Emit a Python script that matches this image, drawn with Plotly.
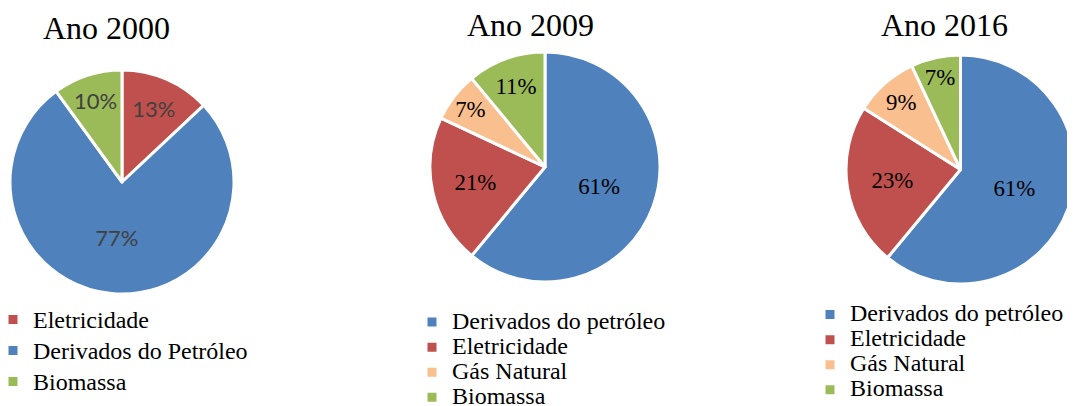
import plotly.graph_objects as go

W, H = 1075, 406
OFF = 8            # page body margin of the html output
FW, FH = W - OFF, H - OFF

# Data
labels_2000 = ["Eletricidade", "Derivados do Petróleo", "Biomassa"]
values_2000 = [13, 77, 10]
colors_2000 = ["#C0504D", "#4F81BD", "#9BBB59"]

labels_2009 = ["Derivados do petróleo", "Eletricidade", "Gás Natural", "Biomassa"]
values_2009 = [61, 21, 7, 11]
colors_2009 = ["#4F81BD", "#C0504D", "#F9BF8F", "#9BBB59"]

labels_2016 = ["Derivados do petróleo", "Eletricidade", "Gás Natural", "Biomassa"]
values_2016 = [61, 23, 9, 7]
colors_2016 = ["#4F81BD", "#C0504D", "#F9BF8F", "#9BBB59"]

titles = ["Ano 2000", "Ano 2009", "Ano 2016"]

SERIF = "Liberation Serif, Times New Roman, serif"
SANS = "Lato, Carlito, Calibri, sans-serif"


def fx(sx):
    return (sx - OFF) / FW


def fy(sy):
    return 1 - (sy - OFF) / FH


def px_dom(x0, x1, y0, y1):
    return dict(x=[max(0, fx(x0)), min(1, fx(x1))], y=[max(0, fy(y1)), min(1, fy(y0))])


def legend_labels(labels, k, size):
    # unique (zero-width suffix) so each pie keeps its own legend entries
    return ['<span style="font-size:%dpx">%s</span>%s' % (size, l, "\u200b" * k) for l in labels]


fig = go.Figure()

fig.add_trace(go.Pie(
    labels=legend_labels(labels_2000, 1, 24), values=values_2000, sort=False,
    direction="clockwise",
    marker=dict(colors=colors_2000, line=dict(color="white", width=3)),
    texttemplate="%{percent:.0%}", textposition="inside",
    insidetextorientation="horizontal",
    insidetextfont=dict(family=SANS, size=22, color="#404040"),
    domain=px_dom(10, 234, 70, 294), legend="legend", hoverinfo="percent",
))

fig.add_trace(go.Pie(
    labels=legend_labels(labels_2009, 2, 24), values=values_2009, sort=False,
    direction="clockwise",
    marker=dict(colors=colors_2009, line=dict(color="white", width=3)),
    texttemplate="%{percent:.0%}", textposition="inside",
    insidetextorientation="horizontal",
    insidetextfont=dict(family=SERIF, size=23, color="black"),
    domain=px_dom(430, 660, 52, 282), legend="legend2", hoverinfo="percent",
))

fig.add_trace(go.Pie(
    labels=legend_labels(labels_2016, 3, 24), values=values_2016, sort=False,
    direction="clockwise",
    marker=dict(colors=colors_2016, line=dict(color="white", width=3)),
    texttemplate="%{percent:.0%}", textposition="inside",
    insidetextorientation="horizontal",
    insidetextfont=dict(family=SERIF, size=23, color="black"),
    domain=px_dom(846, 1077, 54, 285), legend="legend3", hoverinfo="percent",
))

title_pos = [(106, 28), (530, 25), (944, 25)]
annotations = []
for t, (x, y) in zip(titles, title_pos):
    annotations.append(dict(
        text=t, x=fx(x), y=fy(y), xref="paper", yref="paper",
        xanchor="center", yanchor="middle", showarrow=False,
        font=dict(family=SERIF, size=32, color="black"),
    ))

leg_common = dict(bgcolor="rgba(0,0,0,0)", borderwidth=0, traceorder="normal",
                  xanchor="left", yanchor="top")

fig.update_layout(
    width=FW, height=FH,
    margin=dict(l=0, r=0, t=0, b=0, autoexpand=False),
    paper_bgcolor="white", plot_bgcolor="white",
    annotations=annotations,
    uniformtext=dict(minsize=22, mode="show"),
    legend=dict(x=fx(-7), y=fy(299), font=dict(family=SERIF, size=21.5, color="black"), **leg_common),
    legend2=dict(x=fx(412), y=fy(304.5), font=dict(family=SERIF, size=17, color="black"), **leg_common),
    legend3=dict(x=fx(810), y=fy(297), font=dict(family=SERIF, size=17, color="black"), **leg_common),
)

fig.write_html("out.html")
